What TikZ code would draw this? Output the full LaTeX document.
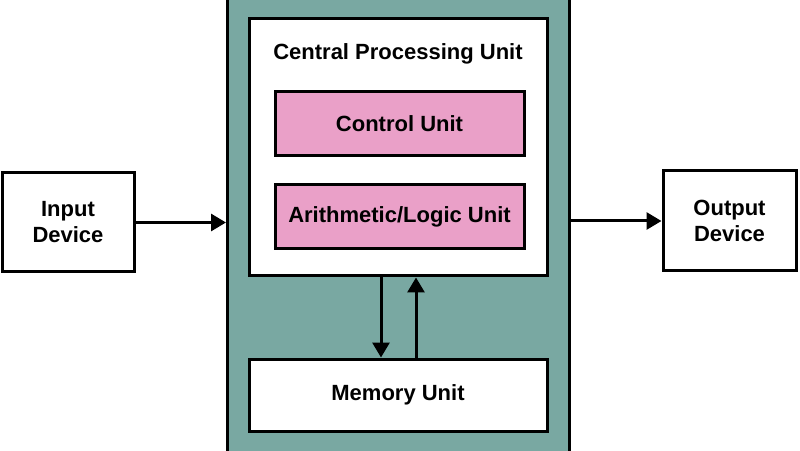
\documentclass[tikz,border=0pt]{standalone}
\usepackage{fontspec}
\setmainfont{Liberation Sans}
\usepackage{tikz}
\usetikzlibrary{arrows.meta,positioning,calc}
\definecolor{systeal}{RGB}{121,168,162}
\definecolor{unitpink}{RGB}{234,160,200}

\begin{document}
\begin{tikzpicture}[x=1pt,y=1pt,>={Triangle[length=15pt,width=17pt]},
  font=\fontsize{22}{26}\selectfont\bfseries,
  box/.style={draw,line width=3pt,fill=white,inner sep=0pt,align=center},
  unit/.style={draw,line width=3pt,fill=unitpink,inner sep=0pt,align=center,minimum width=249pt,minimum height=64pt},
  link/.style={->,line width=3pt}]
\clip (0,0) rectangle (800,450);
\node[draw,line width=3pt,fill=systeal,minimum width=342pt,minimum height=480pt] (sys) at (398.5,225) {};
\node[box,minimum width=298pt,minimum height=257pt] (cpu) at (398,302.5) {};
\node (cpulbl) at (398,396) {Central Processing Unit};
\node[unit] (cu) at (399.5,326) {Control Unit};
\node[unit] (alu) at (399.5,233) {Arithmetic/Logic Unit};
\node[box,minimum width=298pt,minimum height=72pt] (mem) at (398,55) {Memory Unit};
\node[box,minimum width=132pt,minimum height=99pt] (in) at (68,227.5) {Input\\Device};
\node[box,minimum width=133pt,minimum height=100pt] (out) at (729.5,229) {Output\\Device};
\draw[link] (in.east) -- (in.east -| sys.west);
\draw[link] (sys.east |- out.west) -- (out.west);
\draw[link] ([xshift=-17pt]cpu.south) -- ([xshift=-17pt]cpu.south |- mem.north);
\draw[link] ([xshift=18pt]mem.north) -- ([xshift=18pt]mem.north |- cpu.south);
\end{tikzpicture}
\end{document}
